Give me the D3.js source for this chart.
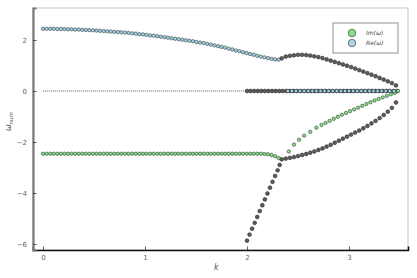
<!DOCTYPE html>
<html>
<head>
<meta charset="utf-8">
<script src="https://cdn.jsdelivr.net/npm/d3@7"></script>
<style>
  body { margin: 0; background: #fff; }
  text { font-family: 'DejaVu Sans', sans-serif; }
</style>
</head>
<body>
<div id="root"></div>
<script>
const width = 417
const height = 278

// k grid of the two low-k branches
const kGrid = [
  0, 0.035, 0.07, 0.105, 0.14, 0.175, 0.21, 0.245, 0.28, 0.315,
  0.35, 0.385, 0.42, 0.455, 0.49, 0.525, 0.56, 0.595, 0.63, 0.665,
  0.70, 0.735, 0.77, 0.805, 0.84, 0.875, 0.91, 0.945, 0.98, 1.015,
  1.05, 1.085, 1.12, 1.155, 1.19, 1.225, 1.26, 1.295, 1.33, 1.365,
  1.40, 1.435, 1.47, 1.505, 1.54, 1.575, 1.61, 1.645, 1.68, 1.715,
  1.75, 1.785, 1.82, 1.855, 1.89, 1.925, 1.96, 1.995, 2.03, 2.065,
  2.10, 2.135, 2.17, 2.205, 2.24, 2.275, 2.31
]
const reUpper = [
  2.44, 2.44, 2.44, 2.44, 2.43, 2.43, 2.43, 2.42, 2.42, 2.41,
  2.41, 2.40, 2.39, 2.39, 2.38, 2.37, 2.36, 2.35, 2.34, 2.33,
  2.32, 2.31, 2.30, 2.29, 2.28, 2.26, 2.25, 2.23, 2.22, 2.20,
  2.18, 2.17, 2.15, 2.13, 2.11, 2.09, 2.07, 2.05, 2.03, 2.01,
  1.99, 1.97, 1.95, 1.92, 1.90, 1.88, 1.85, 1.82, 1.79, 1.76,
  1.73, 1.70, 1.66, 1.63, 1.59, 1.56, 1.52, 1.49, 1.45, 1.42,
  1.38, 1.35, 1.32, 1.29, 1.26, 1.24, 1.23
]
const imLower = [
  -2.46, -2.46, -2.46, -2.46, -2.46, -2.46, -2.46, -2.46, -2.46, -2.46,
  -2.46, -2.46, -2.46, -2.46, -2.46, -2.46, -2.46, -2.46, -2.46, -2.46,
  -2.46, -2.46, -2.46, -2.46, -2.46, -2.46, -2.46, -2.46, -2.46, -2.46,
  -2.46, -2.46, -2.46, -2.46, -2.46, -2.46, -2.46, -2.46, -2.46, -2.46,
  -2.46, -2.46, -2.46, -2.46, -2.46, -2.46, -2.46, -2.46, -2.46, -2.46,
  -2.46, -2.46, -2.46, -2.46, -2.46, -2.46, -2.46, -2.46, -2.46, -2.46,
  -2.46, -2.46, -2.47, -2.48, -2.51, -2.56, -2.63
]

// past the branch point
const kLate = [
  2.34, 2.38, 2.42, 2.46, 2.50, 2.54, 2.58, 2.62, 2.66, 2.70,
  2.74, 2.78, 2.82, 2.86, 2.90, 2.94, 2.98, 3.02, 3.06, 3.10,
  3.14, 3.18, 3.22, 3.26, 3.30, 3.34, 3.38, 3.42, 3.46
]
const fullUpper = [
  1.28, 1.35, 1.38, 1.40, 1.42, 1.42, 1.41, 1.39, 1.36, 1.33,
  1.29, 1.24, 1.19, 1.14, 1.09, 1.04, 0.99, 0.94, 0.88, 0.82,
  0.76, 0.70, 0.64, 0.58, 0.51, 0.45, 0.38, 0.31, 0.22
]
const fullLower = [
  -2.68, -2.65, -2.62, -2.59, -2.55, -2.51, -2.47, -2.42, -2.37, -2.31,
  -2.25, -2.18, -2.11, -2.03, -1.95, -1.87, -1.79, -1.71, -1.63, -1.55,
  -1.46, -1.37, -1.27, -1.17, -1.06, -0.94, -0.81, -0.66, -0.45
]

const kImRise = [
  2.41, 2.46, 2.51, 2.56, 2.62, 2.68, 2.73, 2.77, 2.81, 2.85,
  2.89, 2.93, 2.97, 3.01, 3.05, 3.09, 3.13, 3.17, 3.21, 3.25,
  3.29, 3.33, 3.37, 3.41, 3.45, 3.48
]
const imRise = [
  -2.37, -2.10, -1.91, -1.75, -1.60, -1.44, -1.33, -1.25, -1.17, -1.09,
  -1.01, -0.93, -0.86, -0.79, -0.72, -0.65, -0.58, -0.51, -0.44, -0.37,
  -0.31, -0.25, -0.19, -0.13, -0.07, 0.0
]

const kSteep = [2.00, 2.025, 2.05, 2.075, 2.10, 2.125, 2.15, 2.175, 2.20, 2.225, 2.25, 2.275, 2.30, 2.32]
const fullSteep = [-5.87, -5.63, -5.40, -5.17, -4.94, -4.71, -4.48, -4.25, -4.02, -3.79, -3.56, -3.33, -3.11, -2.90]

const kZeroFull = [
  2.00, 2.035, 2.07, 2.105, 2.14, 2.175, 2.21, 2.245, 2.28, 2.315,
  2.35, 2.385, 2.42, 2.455, 2.49, 2.525, 2.56, 2.595, 2.63, 2.665,
  2.70, 2.735, 2.77, 2.805, 2.84, 2.875, 2.91, 2.945, 2.98, 3.015,
  3.05, 3.085, 3.12, 3.155, 3.19, 3.225, 3.26, 3.295, 3.33, 3.365,
  3.40, 3.435, 3.47
]
const kZeroRe = [
  2.40, 2.44, 2.48, 2.52, 2.56, 2.60, 2.64, 2.68, 2.72, 2.76,
  2.80, 2.84, 2.88, 2.92, 2.96, 3.00, 3.04, 3.08, 3.12, 3.16,
  3.20, 3.24, 3.28, 3.32, 3.36, 3.40, 3.44
]
const kZeroLine = [0, 2.0]

const xTicks = [0, 1, 2, 3]
const yTicks = [2, 0, -2, -4, -6]
const legendLabels = ['Im(ω)', 'Re(ω)']

const green = '#86e086'
const blue = '#a9d3e3'
const grey = '#5c5c5c'

const margin = { left: 33, right: 9, top: 8, bottom: 28 }

const x = d3.scaleLinear().domain([-0.098, 3.578]).range([margin.left, width - margin.right])
const y = d3.scaleLinear().domain([-6.235, 3.255]).range([height - margin.bottom, margin.top])

const svg = d3.select('#root').append('svg')
  .attr('width', width)
  .attr('height', height)

// frame: light top/right, heavier left/bottom
svg.append('rect')
  .attr('x', margin.left)
  .attr('y', margin.top)
  .attr('width', width - margin.right - margin.left)
  .attr('height', height - margin.bottom - margin.top)
  .attr('fill', 'none')
  .attr('stroke', '#c4c4c4')
  .attr('stroke-width', 1)

svg.append('g')
  .attr('transform', 'translate(0,' + (height - margin.bottom) + ')')
  .call(d3.axisBottom(x).tickValues(xTicks).tickSize(-3.5).tickPadding(5).tickFormat(d3.format('d')))
  .call(g => g.select('.domain').attr('stroke', '#111').attr('stroke-width', 1.6))
  .call(g => g.selectAll('.tick line').attr('stroke', '#333').attr('stroke-width', 0.8))
  .call(g => g.selectAll('.tick text').attr('fill', '#666').attr('font-size', 7))

svg.append('g')
  .attr('transform', 'translate(' + margin.left + ',0)')
  .call(d3.axisLeft(y).tickValues(yTicks).tickSize(-3.5).tickPadding(6).tickFormat(d3.format('d')))
  .call(g => g.select('.domain').attr('stroke', '#7a7a7a').attr('stroke-width', 2.2))
  .call(g => g.selectAll('.tick line').attr('stroke', '#333').attr('stroke-width', 0.8))
  .call(g => g.selectAll('.tick text').attr('fill', '#666').attr('font-size', 7))

svg.append('text')
  .attr('x', x(1.7))
  .attr('y', 270)
  .attr('text-anchor', 'middle')
  .attr('font-family', 'DejaVu Serif')
  .attr('font-style', 'italic')
  .attr('font-size', 8)
  .attr('fill', '#555')
  .text('k')

const ylab = svg.append('text')
  .attr('transform', 'translate(11,' + y(-1.2) + ') rotate(-90)')
  .attr('text-anchor', 'middle')
  .attr('font-family', 'DejaVu Serif')
  .attr('font-style', 'italic')
  .attr('font-size', 8)
  .attr('fill', '#555')
ylab.append('tspan').text('ω')
ylab.append('tspan').attr('dy', 2).attr('font-size', 5.5).text('num')

svg.append('line')
  .attr('x1', x(kZeroLine[0]))
  .attr('x2', x(kZeroLine[1]))
  .attr('y1', y(0))
  .attr('y2', y(0))
  .attr('stroke', '#444')
  .attr('stroke-width', 0.7)
  .attr('stroke-dasharray', '1.2,0.8')

const plot = svg.append('g')

const dots = (ks, ws, fill, stroke, r) => {
  plot.append('g')
    .selectAll('circle')
    .data(ks.map((k, i) => [k, ws[i]]))
    .enter()
    .append('circle')
    .attr('cx', d => x(d[0]))
    .attr('cy', d => y(d[1]))
    .attr('r', r)
    .attr('fill', fill)
    .attr('stroke', stroke)
    .attr('stroke-width', 0.6)
}

dots(kSteep, fullSteep, grey, '#2a2a2a', 1.9)
dots(kLate, fullUpper, grey, '#2a2a2a', 1.9)
dots(kLate, fullLower, grey, '#2a2a2a', 1.9)
dots(kZeroFull, kZeroFull.map(() => 0), grey, '#2a2a2a', 1.9)
dots(kGrid, imLower, green, '#2f3f2f', 1.7)
dots(kImRise, imRise, green, '#2f3f2f', 1.7)
dots(kGrid, reUpper, blue, '#2a3a40', 1.7)
dots(kZeroRe, kZeroRe.map(() => 0), blue, '#2a3a40', 1.7)

const legend = svg.append('g')
legend.append('rect')
  .attr('x', 333)
  .attr('y', 23)
  .attr('width', 65)
  .attr('height', 30)
  .attr('fill', '#fff')
  .attr('stroke', '#777')
  .attr('stroke-width', 0.8)

legend.selectAll('circle')
  .data(legendLabels)
  .enter()
  .append('circle')
  .attr('cx', 352)
  .attr('cy', (d, i) => 33 + i * 10)
  .attr('r', 3.8)
  .attr('fill', (d, i) => i === 0 ? green : blue)
  .attr('stroke', '#333')
  .attr('stroke-width', 0.6)

legend.selectAll('text')
  .data(legendLabels)
  .enter()
  .append('text')
  .attr('x', 366)
  .attr('y', (d, i) => 35 + i * 10)
  .attr('font-family', 'DejaVu Serif')
  .attr('font-style', 'italic')
  .attr('font-size', 6)
  .attr('fill', '#444')
  .text(d => d)
</script>
</body>
</html>
